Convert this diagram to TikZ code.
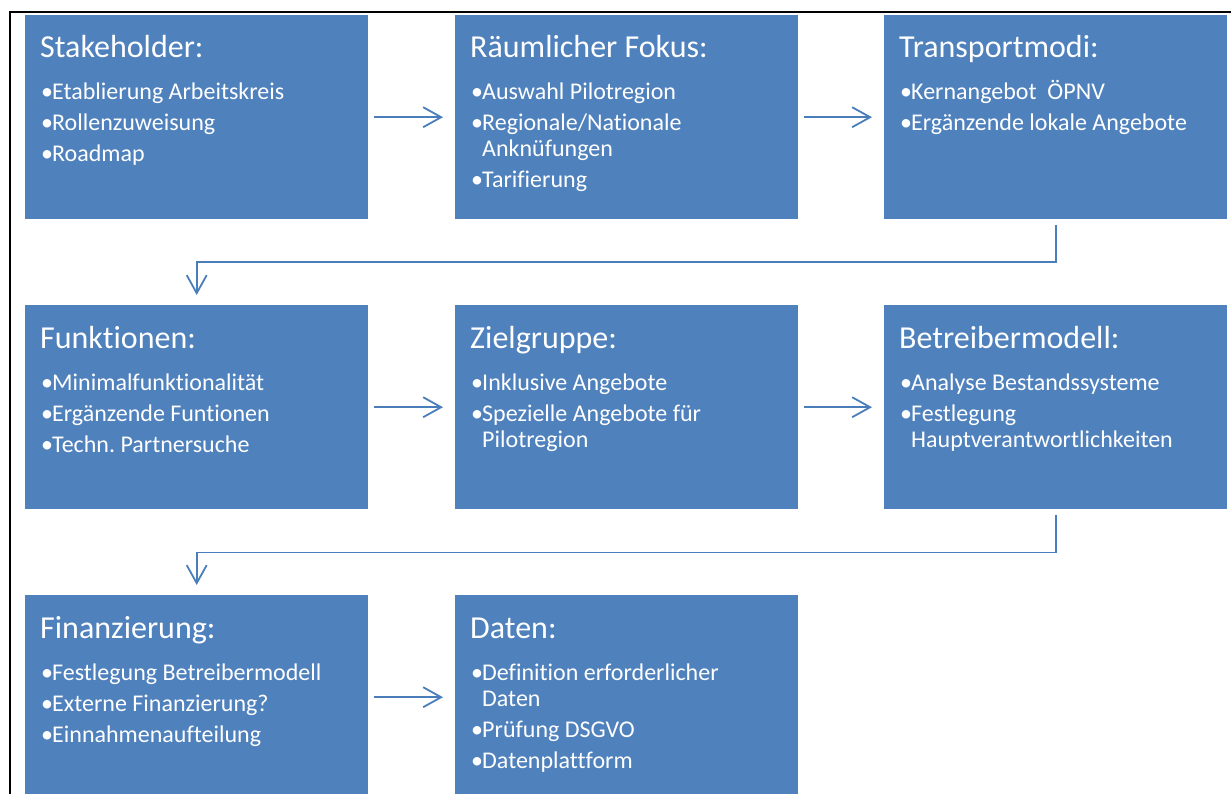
\documentclass[tikz,border=0pt]{standalone}
\usepackage{fontspec}
\setmainfont{Carlito}[Ligatures={NoCommon}]
\usetikzlibrary{arrows.meta,calc}
\definecolor{boxblue}{HTML}{4F81BD}
\definecolor{arrblue}{HTML}{4A7EBB}
\tikzset{
  box/.style={fill=boxblue, draw=none, anchor=north west, minimum width=343pt, minimum height=204pt, inner sep=0pt},
  ttl/.style={anchor=base west, inner sep=0pt, text=white, font=\fontsize{32}{36}\selectfont},
  txt/.style={anchor=base west, inner sep=0pt, text=white, font=\fontsize{24}{28}\selectfont},
  conn/.style={draw=arrblue, line width=1.8pt, -{Straight Barb[length=18pt,width=20pt,line width=1.8pt]}},
}
\newcommand{\bx}[4]{%
  \node[box] (#1) at (#2,#3) {};
  \node[ttl] (#1-t) at ([shift={(15pt,-43pt)}]#1.north west) {#4};}
\newcommand{\bitem}[4]{%
  \node[txt] (#1) at ([shift={(16pt,-#3pt)}]#2.north west) {\makebox[11pt][l]{•}#4};}
\newcommand{\bcont}[4]{%
  \node[txt] (#1) at ([shift={(27pt,-#3pt)}]#2.north west) {#4};}
\frenchspacing
\begin{document}
\frenchspacing
\begin{tikzpicture}[x=1pt,y=-1pt]
\clip (0,0) rectangle (1231,794);
\fill[white] (0,0) rectangle (1231,794);
\draw[black, line width=2pt] (10,800) -- (10,12) -- (1240,12);
% row 1
\bx{s}{25}{15}{Stakeholder:}
\bitem{s1}{s}{85}{Etablierung Arbeitskreis}
\bitem{s2}{s}{116}{Rollenzuweisung}
\bitem{s3}{s}{147}{Roadmap}
\bx{r}{455}{15}{Räumlicher Fokus:}
\bitem{r1}{r}{85}{Auswahl Pilotregion}
\bitem{r2}{r}{116}{Regionale/Nationale}
\bcont{r3}{r}{142}{Anknüfungen}
\bitem{r4}{r}{173}{Tarifierung}
\bx{t}{884}{15}{Transportmodi:}
\bitem{t1}{t}{85}{Kernangebot\ \ ÖPNV}
\bitem{t2}{t}{116}{Ergänzende lokale Angebote}
% row 2
\bx{f}{25}{305}{Funktionen:}
\bitem{f1}{f}{85}{Minimalfunktionalität}
\bitem{f2}{f}{116}{Ergänzende Funtionen}
\bitem{f3}{f}{147}{Techn. Partnersuche}
\bx{z}{455}{305}{Zielgruppe:}
\bitem{z1}{z}{85}{Inklusive Angebote}
\bitem{z2}{z}{116}{Spezielle Angebote für}
\bcont{z3}{z}{142}{Pilotregion}
\bx{b}{884}{305}{Betreibermodell:}
\bitem{b1}{b}{85}{Analyse Bestandssysteme}
\bitem{b2}{b}{116}{Festlegung}
\bcont{b3}{b}{142}{Hauptverantwortlichkeiten}
% row 3
\bx{fi}{25}{595}{Finanzierung:}
\bitem{fi1}{fi}{85}{Festlegung Betreibermodell}
\bitem{fi2}{fi}{116}{Externe Finanzierung?}
\bitem{fi3}{fi}{147}{Einnahmenaufteilung}
\bx{d}{455}{595}{Daten:}
\bitem{d1}{d}{85}{Definition erforderlicher}
\bcont{d2}{d}{111}{Daten}
\bitem{d3}{d}{142}{Prüfung DSGVO}
\bitem{d4}{d}{173}{Datenplattform}
% connectors
\draw[conn, shorten <=6pt, shorten >=12pt] (s.east) -- (r.west);
\draw[conn, shorten <=6pt, shorten >=12pt] (r.east) -- (t.west);
\draw[conn, shorten <=6pt, shorten >=12pt] (f.east) -- (z.west);
\draw[conn, shorten <=6pt, shorten >=12pt] (z.east) -- (b.west);
\draw[conn, shorten <=6pt, shorten >=12pt] (fi.east) -- (d.west);
\draw[conn, shorten <=6pt, shorten >=10pt] (t.south) -- ++(0,43) -| (f.north);
\draw[conn, shorten <=6pt, shorten >=10pt] (b.south) -- ++(0,43) -| (fi.north);
\end{tikzpicture}
\end{document}
